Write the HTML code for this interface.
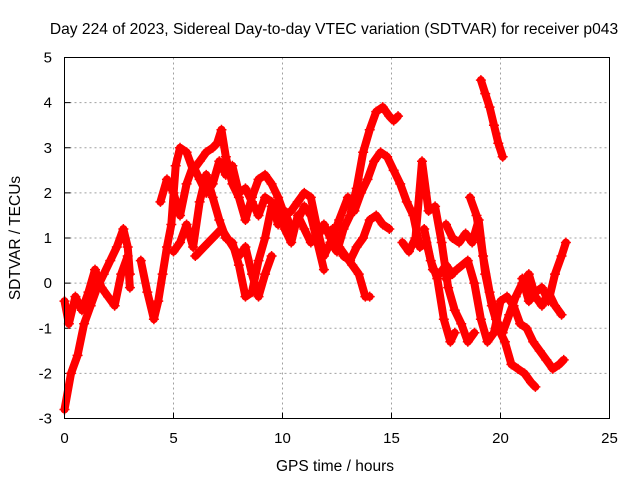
<!DOCTYPE html>
<html><head><meta charset="utf-8"><style>
body{margin:0;background:#fff;}
svg text{font-family:"Liberation Sans",sans-serif;font-size:15px;fill:#000;}
</style></head><body>
<svg width="640" height="480" id="c">
<rect width="640" height="480" fill="#fff"/>
<text x="334" y="34" text-anchor="middle" style="font-size:15.6px">Day 224 of 2023, Sidereal Day-to-day VTEC variation (SDTVAR) for receiver p043</text>
<text x="335" y="471" text-anchor="middle" style="font-size:15.5px">GPS time / hours</text>
<text transform="translate(20,238) rotate(-90)" text-anchor="middle" style="font-size:15.5px">SDTVAR / TECUs</text>
<g id="grid"></g><g id="marks"></g>
<rect x="64.5" y="57.5" width="545" height="361" fill="none" stroke="#000"/>
</svg>
<script>
const xTicks=[0,5,10,15,20,25];
const yTicks=[-3,-2,-1,0,1,2,3,4,5];
const tracks=[
[[0,-2.8],[0.3,-2.0],[0.6,-1.6],[0.9,-0.9],[1.2,-0.5],[1.5,-0.1],[1.8,0.2],[2.1,0.5],[2.4,0.8],[2.7,1.2],[2.9,0.8],[3.0,0.2]],
[[0,-0.4],[0.2,-0.9],[0.5,-0.3],[0.8,-0.6],[1.1,-0.2],[1.4,0.3],[1.7,-0.1],[2.0,-0.3],[2.3,-0.5],[2.6,0.2],[2.9,0.6],[3.0,-0.1]],
[[3.5,0.5],[3.8,-0.2],[4.1,-0.8],[4.3,-0.4],[4.5,0.2],[4.7,0.8],[4.9,1.3],[5.1,2.6],[5.3,3.0],[5.6,2.9],[5.9,2.5],[6.2,2.7],[6.5,2.9],[6.8,3.0],[7.0,3.1],[7.2,3.4],[7.4,2.8],[7.7,2.2],[8.0,1.9],[8.3,1.4],[8.6,1.9],[8.9,2.3],[9.2,2.4],[9.5,2.2],[9.8,1.9],[10.1,1.5],[10.4,1.6],[10.7,1.8],[11.0,2.0],[11.3,1.9],[11.6,1.2],[11.9,0.6],[12.2,0.9],[12.5,0.7],[12.8,1.2],[13.1,1.5],[13.4,2.1],[13.7,2.9],[14.0,3.4],[14.3,3.8],[14.6,3.9],[14.9,3.7],[15.1,3.6],[15.3,3.7]],
[[4.4,1.8],[4.7,2.3],[5.0,2.0],[5.3,1.5],[5.6,2.2],[5.9,2.6],[6.2,2.3],[6.5,2.0],[6.8,2.2],[7.1,2.7],[7.4,2.4],[7.7,2.6],[8.0,2.0],[8.3,2.1],[8.6,1.8],[8.9,1.5],[9.2,1.9],[9.5,1.8],[9.8,1.3],[10.1,1.6],[10.4,1.2],[10.7,1.4],[11.0,1.7],[11.3,1.5],[11.6,0.9],[11.9,0.3]],
[[5.0,0.7],[5.3,0.9],[5.6,1.3],[5.9,0.8],[6.2,1.8],[6.5,2.4],[6.8,1.9],[7.1,1.4],[7.4,1.0],[7.7,0.9],[8.0,0.4],[8.3,-0.3],[8.6,-0.2],[8.9,0.5],[9.2,1.0],[9.5,1.7],[9.8,1.8],[10.1,1.2],[10.4,0.9],[10.7,1.5],[11.0,1.2],[11.3,0.9],[11.6,1.0],[11.9,1.3],[12.2,1.0],[12.5,0.9],[12.8,0.6],[13.1,0.5],[13.4,0.8],[13.7,1.0],[14.0,1.4],[14.3,1.5],[14.6,1.3],[14.9,1.2]],
[[6.0,0.6],[6.4,0.8],[6.8,1.0],[7.2,1.2],[7.6,0.9],[8.0,0.6],[8.3,0.8],[8.6,0.2],[8.9,-0.3],[9.2,0.2],[9.5,0.6]],
[[12.2,0.9],[12.6,1.4],[13.0,1.9],[13.3,1.6],[13.6,2.0],[13.9,2.3],[14.2,2.7],[14.5,2.9],[14.8,2.8],[15.1,2.5],[15.4,2.2],[15.7,1.8],[16.0,1.5],[16.3,0.8],[16.6,0.9],[16.9,0.3],[17.2,0.2],[17.5,0.4],[17.8,0.2]],
[[12.3,1.2],[12.6,0.8],[12.9,0.6],[13.2,0.4],[13.5,0.2],[13.8,-0.3],[14.0,-0.3]],
[[15.5,0.9],[15.8,0.7],[16.1,1.0],[16.4,2.7],[16.7,1.6],[17.0,1.7],[17.3,0.9],[17.6,-0.1],[17.9,-0.6],[18.2,-0.9],[18.5,-1.3],[18.8,-1.1]],
[[16.5,1.2],[16.8,0.5],[17.1,0.1],[17.4,-0.8],[17.7,-1.3],[17.9,-1.1]],
[[17.5,1.3],[17.8,1.0],[18.1,0.9],[18.4,1.1],[18.7,0.9],[19.0,1.4],[19.3,0.2],[19.6,-0.5],[19.9,-1.0],[20.2,-1.3],[20.5,-1.8],[20.8,-1.9],[21.1,-2.0],[21.4,-2.2],[21.6,-2.3]],
[[18.6,1.9],[18.9,1.5],[19.2,0.6],[19.5,-0.2],[19.8,-0.8],[20.1,-1.1],[20.4,-0.7],[20.7,-0.3],[21.0,0.0],[21.3,0.2],[21.6,-0.3],[21.9,-0.5],[22.2,-0.2],[22.5,-0.5],[22.8,-0.7]],
[[17.5,0.1],[18.0,0.3],[18.5,0.5],[18.8,0.0],[19.1,-0.8],[19.4,-1.3],[19.7,-1.1],[20.0,-0.4],[20.3,-0.3],[20.6,-0.5],[20.9,-0.9],[21.2,-1.0],[21.5,-1.3],[21.8,-1.5],[22.1,-1.7],[22.4,-1.9],[22.7,-1.8],[22.9,-1.7]],
[[19.1,4.5],[19.3,4.2],[19.5,3.9],[19.7,3.5],[19.9,3.1],[20.1,2.8]],
[[21.0,0.1],[21.3,-0.4],[21.6,-0.2],[21.9,-0.1],[22.2,-0.4],[22.5,0.2],[22.8,0.6],[23.0,0.9]]
];
const L=64.5,R=609.5,T=57.5,B=418.5;
const xs=v=>L+(v-0)/(25-0)*(R-L);
const ys=v=>B-(v+3)/(8)*(B-T);
const NS='http://www.w3.org/2000/svg';
const g=document.getElementById('grid'),m=document.getElementById('marks');
function mk(tag,attrs,parent){const e=document.createElementNS(NS,tag);for(const k in attrs)e.setAttribute(k,attrs[k]);parent.appendChild(e);return e;}
xTicks.forEach(t=>{const x=xs(t);
 if(t>0&&t<25){const l=mk('line',{x1:x,x2:x,y1:T,y2:B,stroke:'#a0a0a0','stroke-dasharray':'2,3'},g);}
 const tk=mk('line',{x1:x,x2:x,y1:B,y2:B-6,stroke:'#000'},g);
 const tx=mk('text',{x:x,y:443,'text-anchor':'middle'},g);tx.textContent=t;});
yTicks.forEach(t=>{const y=ys(t);
 if(t>-3&&t<5){const l=mk('line',{x1:L,x2:R,y1:y,y2:y,stroke:'#a0a0a0','stroke-dasharray':'2,3'},g);}
 const tk=mk('line',{x1:L,x2:L+6,y1:y,y2:y,stroke:'#000'},g);
 const tx=mk('text',{x:52,y:y+5,'text-anchor':'end'},g);tx.textContent=t;});
tracks.forEach((tr,i)=>{
 const pts=tr.map(p=>xs(p[0])+','+ys(p[1])).join(' ');
 const pl=mk('polyline',{points:pts,fill:'none',stroke:'#ff0000','stroke-width':8,'stroke-linejoin':'round','stroke-linecap':'round'},m);
 
 
 tr.forEach(p=>{const x=xs(p[0]),y=ys(p[1]);
  const pm=mk('path',{d:`M${x-5},${y}H${x+5}M${x},${y-5}V${y+5}`,stroke:'#ff0000','stroke-width':1.5},m);
  
  });
});
</script>
</body></html>
